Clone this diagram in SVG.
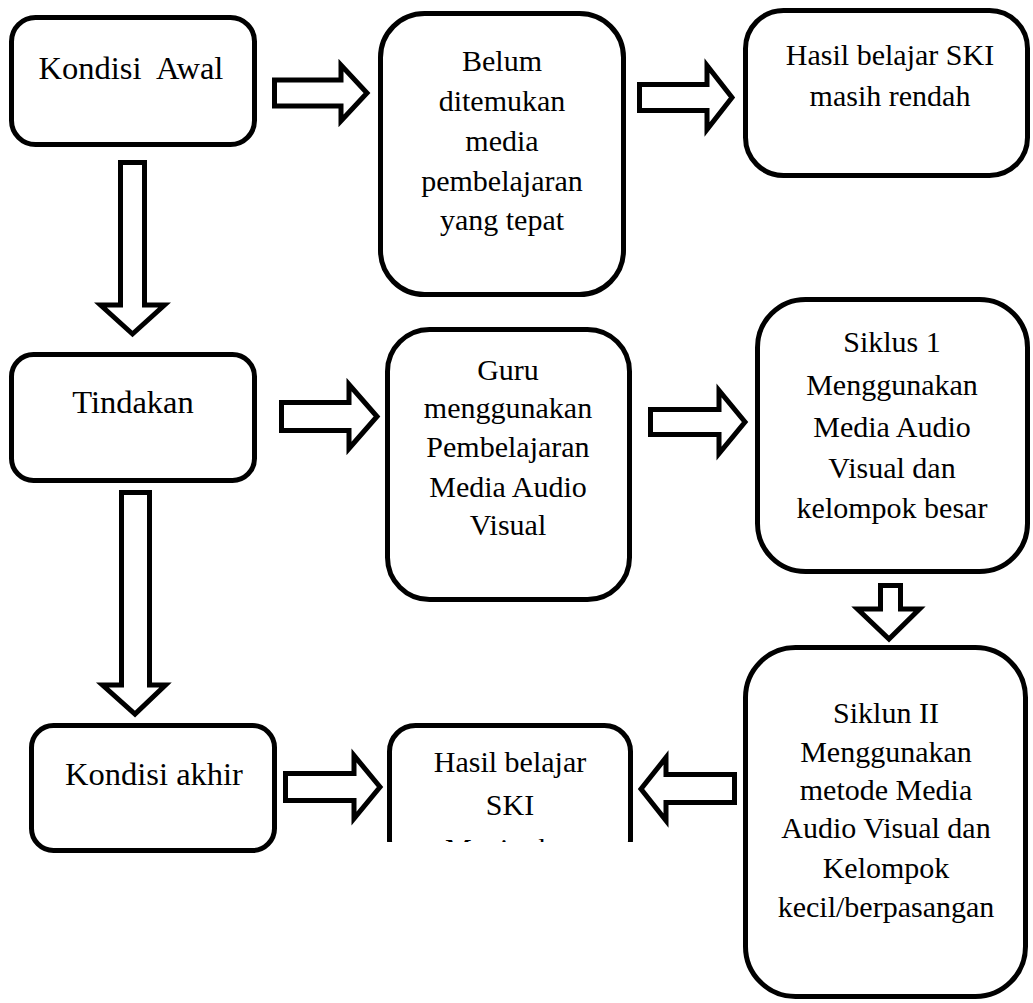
<svg xmlns="http://www.w3.org/2000/svg" width="1033" height="1003" viewBox="0 0 1033 1003">
<style>
.box{fill:#fff;stroke:#000;stroke-width:5}
.arr{fill:#fff;stroke:#000;stroke-width:5;stroke-linejoin:miter}
.t{font-family:"Liberation Serif","Times New Roman",serif;font-size:30px;fill:#000;text-anchor:middle}
.tl{font-size:32.5px}
</style>
<defs>
<clipPath id="clipHasil"><rect x="370" y="700" width="280" height="142"/></clipPath>
</defs>
<rect x="0" y="0" width="1033" height="1003" fill="#fff"/>

<g id="connectors">
<polygon class="arr" points="274.5,80 341,80 341,65 367,93 341,121 341,106 274.5,106"/>
<polygon class="arr" points="639.5,84.5 707,84.5 707,65.5 732,97.5 707,129.5 707,110.5 639.5,110.5"/>
<polygon class="arr" points="281.5,402.5 349,402.5 349,384.5 377,416.5 349,448.5 349,430.5 281.5,430.5"/>
<polygon class="arr" points="650.5,409.5 719,409.5 719,390.5 745,422 719,453.5 719,434.5 650.5,434.5"/>
<polygon class="arr" points="285.5,773.5 354,773.5 354,755.5 380,787 354,818.5 354,800.5 285.5,800.5"/>
<polygon class="arr" points="734.5,774.5 666,774.5 666,757.5 641,789 666,820.5 666,802.5 734.5,802.5"/>
<polygon class="arr" points="120.5,162.5 144.5,162.5 144.5,305 164.5,305 132.5,334 100.5,305 120.5,305"/>
<polygon class="arr" points="121.5,492.5 149.5,492.5 149.5,685 165.5,685 135,714 102.5,685 121.5,685"/>
<polygon class="arr" points="880.5,585.5 900.5,585.5 900.5,609 919.5,609 889,639 857.5,609 880.5,609"/>
</g>

<g id="kondisi-awal">
<rect class="box" x="11.5" y="17.5" width="243" height="127" rx="24"/>
<text class="t tl" x="131" y="79" xml:space="preserve" style="white-space:pre">Kondisi  Awal</text>
</g>

<g id="belum">
<rect class="box" x="380.5" y="13.5" width="243" height="281" rx="44"/>
<text class="t" x="502" y="71">Belum</text>
<text class="t" x="502" y="111">ditemukan</text>
<text class="t" x="502" y="151">media</text>
<text class="t" x="502" y="191">pembelajaran</text>
<text class="t" x="502" y="230">yang tepat</text>
</g>

<g id="hasil-rendah">
<rect class="box" x="745.5" y="10.5" width="282" height="165" rx="38"/>
<text class="t" x="890" y="65">Hasil belajar SKI</text>
<text class="t" x="890" y="106">masih rendah</text>
</g>

<g id="tindakan">
<rect class="box" x="11.5" y="354.5" width="243" height="126" rx="22"/>
<text class="t tl" x="133" y="413">Tindakan</text>
</g>

<g id="guru">
<rect class="box" x="387.5" y="329.5" width="242" height="270" rx="42"/>
<text class="t" x="508" y="380">Guru</text>
<text class="t" x="508" y="418">menggunakan</text>
<text class="t" x="508" y="457">Pembelajaran</text>
<text class="t" x="508" y="497">Media Audio</text>
<text class="t" x="508" y="535">Visual</text>
</g>

<g id="siklus1">
<rect class="box" x="757.5" y="299.5" width="270" height="272" rx="48"/>
<text class="t" x="892" y="352">Siklus 1</text>
<text class="t" x="892" y="395">Menggunakan</text>
<text class="t" x="892" y="437">Media Audio</text>
<text class="t" x="892" y="478">Visual dan</text>
<text class="t" x="892" y="518">kelompok besar</text>
</g>

<g id="siklun2">
<rect class="box" x="745.5" y="647.5" width="280" height="349" rx="50"/>
<text class="t" x="886" y="723">Siklun II</text>
<text class="t" x="886" y="762">Menggunakan</text>
<text class="t" x="886" y="800">metode Media</text>
<text class="t" x="886" y="838">Audio Visual dan</text>
<text class="t" x="886" y="878">Kelompok</text>
<text class="t" x="886" y="917">kecil/berpasangan</text>
</g>

<g id="kondisi-akhir">
<rect class="box" x="31.5" y="725.5" width="243" height="125" rx="22"/>
<text class="t tl" x="154" y="785">Kondisi akhir</text>
</g>

<g id="hasil-ski">
<g clip-path="url(#clipHasil)">
<rect class="box" x="389.5" y="725.5" width="241" height="140" rx="26"/>
<text class="t" x="510" y="772">Hasil belajar</text>
<text class="t" x="510" y="815">SKI</text>
<text class="t" x="510" y="859">Meningkat</text>
</g>
</g>
</svg>
